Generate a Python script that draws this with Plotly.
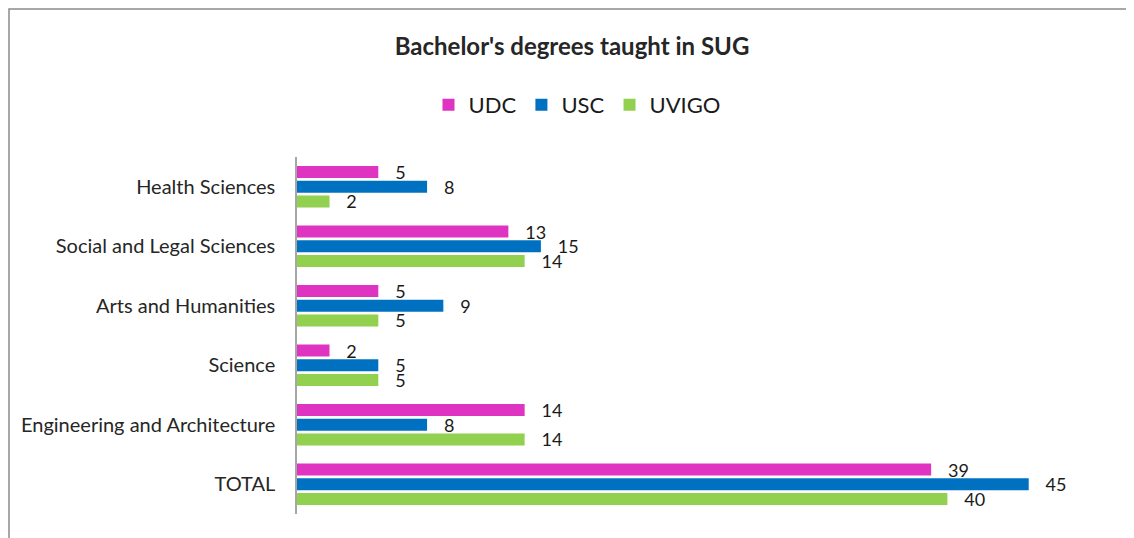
import plotly.graph_objects as go

categories = ["Health Sciences", "Social and Legal Sciences", "Arts and Humanities",
              "Science", "Engineering and Architecture", "TOTAL"]
series_names = ["UDC", "USC", "UVIGO"]
udc = [5, 13, 5, 2, 14, 39]
usc = [8, 15, 9, 5, 8, 45]
uvigo = [2, 14, 5, 5, 14, 40]
colors = ["#DE34C1", "#0070C0", "#92D050"]

FONT = "Lato"
OFF = 8  # page body margin
FW, FH = 1134 - OFF, 538 - OFF

fig = go.Figure()
for name, vals, col in zip(series_names, [udc, usc, uvigo], colors):
    fig.add_trace(go.Bar(
        y=categories, x=vals, name=name, orientation="h",
        marker=dict(color=col, line=dict(width=0)),
        text=vals, texttemplate="\u00a0\u00a0\u00a0%{x}",
        textposition="outside", constraintext="none", cliponaxis=False,
        textfont=dict(family=FONT, size=18, color="#1a1a1a"),
    ))

L = 297 - OFF
T = 157 - OFF
B = FH - (514 - OFF)
R = FW - (1110 - OFF)
W = FW - L - R
H = FH - T - B

fig.update_layout(
    width=FW, height=FH,
    margin=dict(l=L, r=R, t=T, b=B, pad=0),
    paper_bgcolor="white", plot_bgcolor="white",
    barmode="group", bargap=0.26, bargroupgap=0.18,
    font=dict(family=FONT, color="#404040"),
    title=dict(text="<b>Bachelor's degrees taught in SUG</b>", x=(572 - OFF) / FW, xanchor="center",
               y=1 - (47 - OFF) / FH, yanchor="middle", font=dict(size=24, color="#262626", family=FONT)),
    legend=dict(orientation="h", x=(577 - 297) / W, xanchor="center",
                y=1 + (157 - 105) / H, yanchor="middle",
                font=dict(size=22, color="#1a1a1a", family=FONT), itemwidth=30,
                traceorder="normal"),
    xaxis=dict(range=[0, 50], visible=False, showgrid=False, zeroline=False),
    yaxis=dict(autorange="reversed", showline=True, linecolor="#a6a6a6", linewidth=1.5,
               showgrid=False, zeroline=False, ticks="", ticklabelstandoff=16,
               tickfont=dict(size=20, color="#262626", family=FONT)),
    shapes=[dict(type="rect", xref="paper", yref="paper",
                 x0=(1 - L) / W, x1=(FW + 10 - L) / W,
                 y0=-(B + 10) / H, y1=1 + (T - 1) / H,
                 line=dict(color="#8c8c8c", width=1.5), fillcolor="rgba(0,0,0,0)", layer="below")],
)
fig.write_html("out.html")
